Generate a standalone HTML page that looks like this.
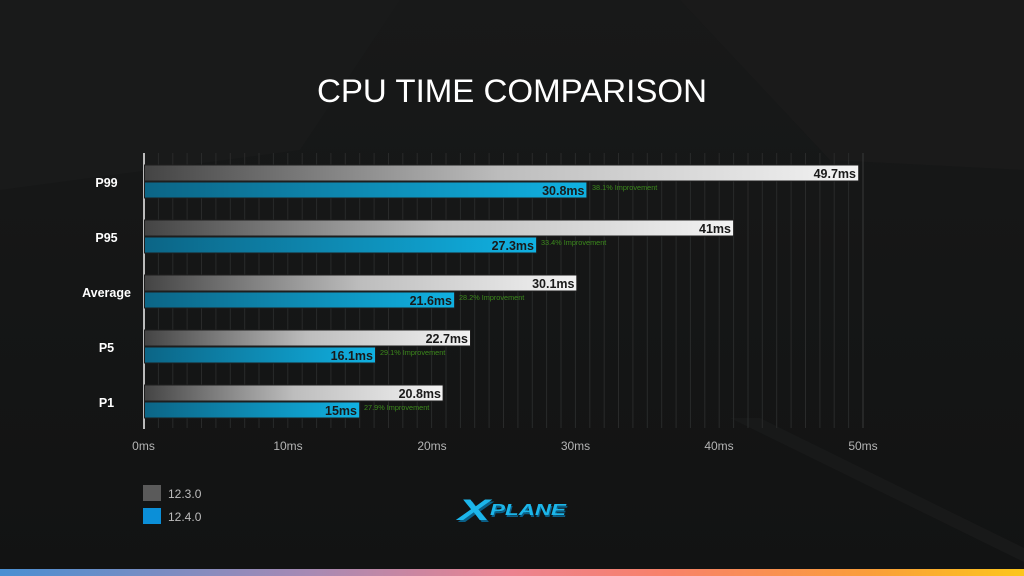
<!DOCTYPE html>
<html>
<head>
<meta charset="utf-8">
<style>
html,body{margin:0;padding:0;background:#141515;}
body{width:1024px;height:576px;overflow:hidden;}
svg{display:block;}
text{font-family:"Liberation Sans",sans-serif;}
</style>
</head>
<body>
<svg width="1024" height="576" viewBox="0 0 1024 576" xmlns="http://www.w3.org/2000/svg">
  <defs>
    <linearGradient id="gg" x1="0" y1="0" x2="1" y2="0">
      <stop offset="0" stop-color="#444444"/>
      <stop offset="0.5" stop-color="#bdbdbd"/>
      <stop offset="1" stop-color="#f3f3f3"/>
    </linearGradient>
    <linearGradient id="bg" x1="0" y1="0" x2="1" y2="0">
      <stop offset="0" stop-color="#0c6586"/>
      <stop offset="1" stop-color="#10b1e2"/>
    </linearGradient>
    <linearGradient id="bot" x1="0" y1="0" x2="1" y2="0">
      <stop offset="0" stop-color="#4a8fd2"/>
      <stop offset="0.3" stop-color="#a68ab4"/>
      <stop offset="0.5" stop-color="#ec8390"/>
      <stop offset="0.65" stop-color="#f8826a"/>
      <stop offset="0.85" stop-color="#fa9e3a"/>
      <stop offset="1" stop-color="#fcc61c"/>
    </linearGradient>
    <linearGradient id="bgv" x1="0" y1="0" x2="0" y2="1">
      <stop offset="0" stop-color="#181919"/>
      <stop offset="0.5" stop-color="#151616"/>
      <stop offset="1" stop-color="#121313"/>
    </linearGradient>
  </defs>

  <!-- background -->
  <rect x="0" y="0" width="1024" height="576" fill="url(#bgv)"/>
  <polygon points="0,0 400,0 300,150 0,190" fill="#191a1a"/>
  <polygon points="680,0 1024,0 1024,170 830,160" fill="#1a1a1a"/>
  <polygon points="730,418 760,418 1024,548 1024,562" fill="#181919"/>

  <!-- gridlines -->
  <g stroke="#292a2a" stroke-width="1">
    <line x1="158.4" y1="153" x2="158.4" y2="428"/>
    <line x1="172.8" y1="153" x2="172.8" y2="428"/>
    <line x1="187.1" y1="153" x2="187.1" y2="428"/>
    <line x1="201.5" y1="153" x2="201.5" y2="428"/>
    <line x1="215.9" y1="153" x2="215.9" y2="428"/>
    <line x1="230.3" y1="153" x2="230.3" y2="428"/>
    <line x1="244.7" y1="153" x2="244.7" y2="428"/>
    <line x1="259.0" y1="153" x2="259.0" y2="428"/>
    <line x1="273.4" y1="153" x2="273.4" y2="428"/>
    <line x1="287.8" y1="153" x2="287.8" y2="428"/>
    <line x1="302.2" y1="153" x2="302.2" y2="428"/>
    <line x1="316.6" y1="153" x2="316.6" y2="428"/>
    <line x1="330.9" y1="153" x2="330.9" y2="428"/>
    <line x1="345.3" y1="153" x2="345.3" y2="428"/>
    <line x1="359.7" y1="153" x2="359.7" y2="428"/>
    <line x1="374.1" y1="153" x2="374.1" y2="428"/>
    <line x1="388.5" y1="153" x2="388.5" y2="428"/>
    <line x1="402.8" y1="153" x2="402.8" y2="428"/>
    <line x1="417.2" y1="153" x2="417.2" y2="428"/>
    <line x1="431.6" y1="153" x2="431.6" y2="428"/>
    <line x1="446.0" y1="153" x2="446.0" y2="428"/>
    <line x1="460.4" y1="153" x2="460.4" y2="428"/>
    <line x1="474.7" y1="153" x2="474.7" y2="428"/>
    <line x1="489.1" y1="153" x2="489.1" y2="428"/>
    <line x1="503.5" y1="153" x2="503.5" y2="428"/>
    <line x1="517.9" y1="153" x2="517.9" y2="428"/>
    <line x1="532.3" y1="153" x2="532.3" y2="428"/>
    <line x1="546.6" y1="153" x2="546.6" y2="428"/>
    <line x1="561.0" y1="153" x2="561.0" y2="428"/>
    <line x1="575.4" y1="153" x2="575.4" y2="428"/>
    <line x1="589.8" y1="153" x2="589.8" y2="428"/>
    <line x1="604.2" y1="153" x2="604.2" y2="428"/>
    <line x1="618.5" y1="153" x2="618.5" y2="428"/>
    <line x1="632.9" y1="153" x2="632.9" y2="428"/>
    <line x1="647.3" y1="153" x2="647.3" y2="428"/>
    <line x1="661.7" y1="153" x2="661.7" y2="428"/>
    <line x1="676.1" y1="153" x2="676.1" y2="428"/>
    <line x1="690.4" y1="153" x2="690.4" y2="428"/>
    <line x1="704.8" y1="153" x2="704.8" y2="428"/>
    <line x1="719.2" y1="153" x2="719.2" y2="428"/>
    <line x1="733.6" y1="153" x2="733.6" y2="428"/>
    <line x1="748.0" y1="153" x2="748.0" y2="428"/>
    <line x1="762.3" y1="153" x2="762.3" y2="428"/>
    <line x1="776.7" y1="153" x2="776.7" y2="428"/>
    <line x1="791.1" y1="153" x2="791.1" y2="428"/>
    <line x1="805.5" y1="153" x2="805.5" y2="428"/>
    <line x1="819.9" y1="153" x2="819.9" y2="428"/>
    <line x1="834.2" y1="153" x2="834.2" y2="428"/>
    <line x1="848.6" y1="153" x2="848.6" y2="428"/>
    <line x1="863.0" y1="153" x2="863.0" y2="428" stroke="#383939"/>
  </g>

  <!-- axis -->
  <line x1="144" y1="153" x2="144" y2="429" stroke="#f2f2f2" stroke-width="1.5"/>

  <!-- title -->
  <text x="512" y="102" text-anchor="middle" font-size="32" fill="#ffffff" textLength="390" lengthAdjust="spacingAndGlyphs">CPU TIME COMPARISON</text>

  <!-- category labels -->
  <g font-size="12.5" font-weight="bold" fill="#ffffff" text-anchor="middle">
    <text x="106.5" y="187">P99</text>
    <text x="106.5" y="242">P95</text>
    <text x="106.5" y="297">Average</text>
    <text x="106.5" y="352">P5</text>
    <text x="106.5" y="407">P1</text>
  </g>

  <!-- bars -->
  <g stroke="#1e1e1e" stroke-width="1">
    <rect x="144.5" y="165" width="714.2" height="16" fill="url(#gg)"/>
    <rect x="144.5" y="182" width="442.4" height="16" fill="url(#bg)"/>
    <rect x="144.5" y="220" width="589.1" height="16" fill="url(#gg)"/>
    <rect x="144.5" y="237" width="392.1" height="16" fill="url(#bg)"/>
    <rect x="144.5" y="275" width="432.3" height="16" fill="url(#gg)"/>
    <rect x="144.5" y="292" width="310.1" height="16" fill="url(#bg)"/>
    <rect x="144.5" y="330" width="326.0" height="16" fill="url(#gg)"/>
    <rect x="144.5" y="347" width="231.0" height="16" fill="url(#bg)"/>
    <rect x="144.5" y="385" width="298.6" height="16" fill="url(#gg)"/>
    <rect x="144.5" y="402" width="215.2" height="16" fill="url(#bg)"/>
  </g>

  <!-- value labels -->
  <g font-size="12.5" font-weight="bold" fill="#1a1a1a" text-anchor="end">
    <text x="856" y="178">49.7ms</text>
    <text x="584.5" y="195">30.8ms</text>
    <text x="731" y="233">41ms</text>
    <text x="534" y="250">27.3ms</text>
    <text x="574.5" y="288">30.1ms</text>
    <text x="452" y="305">21.6ms</text>
    <text x="468" y="343">22.7ms</text>
    <text x="373" y="360">16.1ms</text>
    <text x="441" y="398">20.8ms</text>
    <text x="357" y="415">15ms</text>
  </g>

  <!-- improvement labels -->
  <g font-size="7.3" fill="#3c8a1c">
    <text x="592" y="190">38.1% Improvement</text>
    <text x="541" y="245">33.4% Improvement</text>
    <text x="459" y="300">28.2% Improvement</text>
    <text x="380" y="355">29.1% Improvement</text>
    <text x="364" y="410">27.9% Improvement</text>
  </g>

  <!-- tick labels -->
  <g font-size="12" fill="#b4b4b4" text-anchor="middle">
    <text x="143.5" y="450">0ms</text>
    <text x="288" y="450">10ms</text>
    <text x="432" y="450">20ms</text>
    <text x="575.5" y="450">30ms</text>
    <text x="719" y="450">40ms</text>
    <text x="863" y="450">50ms</text>
  </g>

  <!-- legend -->
  <rect x="143" y="485" width="18" height="16" fill="#5a5a5a"/>
  <rect x="143" y="508" width="18" height="16" fill="#0b8fd8"/>
  <g font-size="12" fill="#bdbdbd">
    <text x="168" y="498">12.3.0</text>
    <text x="168" y="521">12.4.0</text>
  </g>

  <!-- logo -->
  <g font-weight="bold" font-style="italic">
    <text x="460" y="522" font-size="30" fill="#0a5f86" textLength="32" lengthAdjust="spacingAndGlyphs">X</text>
    <text x="458" y="520" font-size="30" fill="#1cb6ea" textLength="32" lengthAdjust="spacingAndGlyphs">X</text>
    <text x="491" y="517" font-size="16" fill="#0a5f86" textLength="76" lengthAdjust="spacingAndGlyphs">PLANE</text>
    <text x="490" y="515" font-size="16" fill="#1cb6ea" textLength="76" lengthAdjust="spacingAndGlyphs">PLANE</text>
  </g>

  <!-- bottom gradient bar -->
  <rect x="0" y="569" width="1024" height="7" fill="url(#bot)"/>
</svg>
</body>
</html>
